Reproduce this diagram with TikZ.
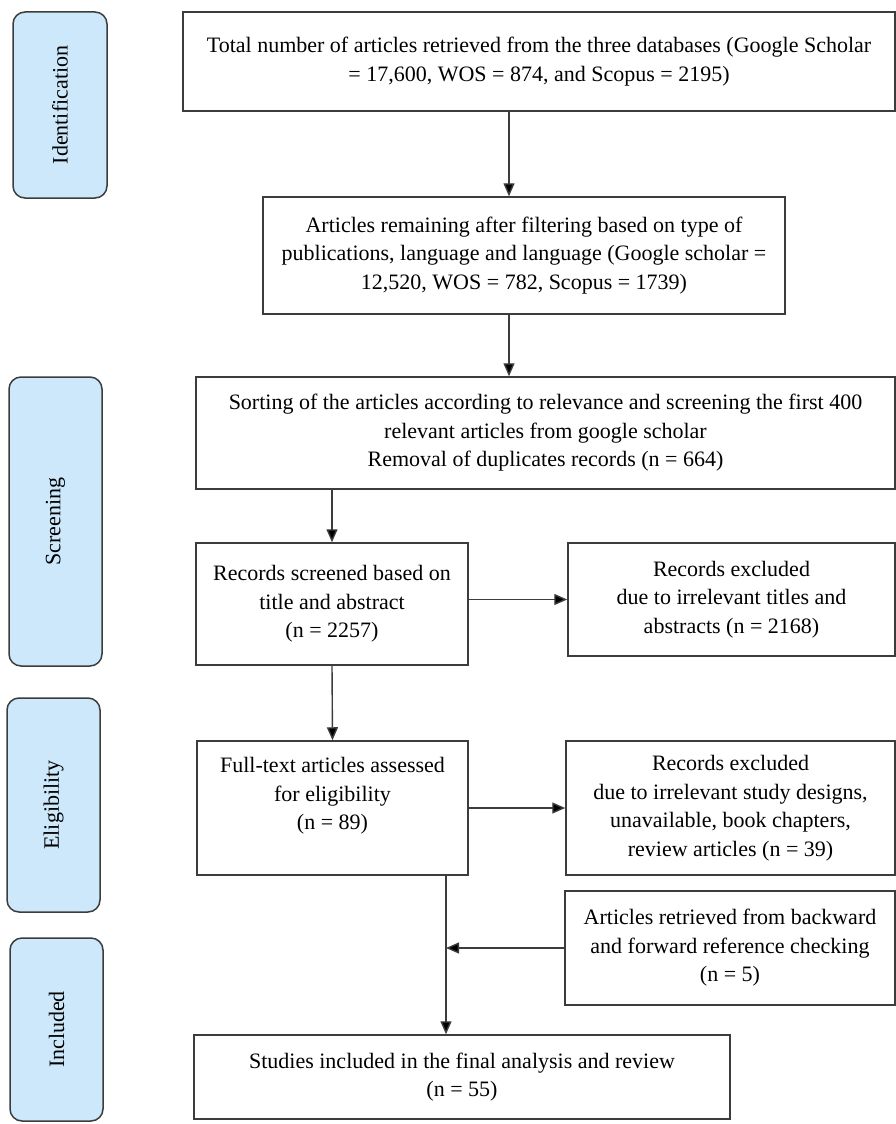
\documentclass[tikz,border=0pt]{standalone}
\usepackage{fontspec}
\setmainfont{Liberation Serif}
\usepackage{tikz}
\usetikzlibrary{arrows.meta, positioning, calc}
\definecolor{cPhase}{RGB}{204,232,250}
\definecolor{cLine}{RGB}{60,60,60}
\tikzset{
	phase/.style    ={rectangle, rounded corners=12pt, draw=cLine, line width=1.5pt, fill=cPhase, rotate=90, inner sep=2pt},
	rec/.style      ={rectangle, draw=cLine, line width=1.5pt, align=center, inner sep=2pt},
	flowarrow/.style={-{Triangle[length=13pt, width=11pt, fill=black]}, line width=1.4pt, draw=cLine},
}
\begin{document}
\begin{tikzpicture}[x=1pt, y=-1pt, font=\fontsize{22}{28.5}\selectfont]
	\useasboundingbox (0,0) rectangle (896,1124);
	% phases on the left
	\node[phase, minimum width=186pt, minimum height=94pt] (ident)  at (60,105)    {Identification};
	\node[phase, minimum width=289pt, minimum height=93pt] (screen) at (55.5,521.5) {Screening};
	\node[phase, minimum width=214pt, minimum height=93pt] (elig)   at (53.5,805)  {Eligibility};
	\node[phase, minimum width=183pt, minimum height=93pt] (incl)   at (56.5,1029.5) {Included};
	% flow boxes
	\node[rec, minimum width=712pt, minimum height=99pt] (total) at (539,61.5)
		{Total number of articles retrieved from the three databases (Google Scholar\\= 17,600, WOS = 874, and Scopus = 2195)};
	\node[rec, minimum width=522pt, minimum height=117pt] (remain) at (524,255.5)
		{Articles remaining after filtering based on type of\\publications, language and language (Google scholar =\\12,520, WOS = 782, Scopus = 1739)};
	\node[rec, minimum width=699pt, minimum height=112pt] (sorting) at (545.5,433)
		{Sorting of the articles according to relevance and screening the first 400\\relevant articles from google scholar\\Removal of duplicates records (n = 664)};
	\node[rec, minimum width=272pt, minimum height=122pt] (screened) at (332,604)
		{Records screened based on\\title and abstract\\(n = 2257)};
	\node[rec, minimum width=327pt, minimum height=113pt] (exclA) at (731.5,599.5)
		{Records excluded\\due to irrelevant titles and\\abstracts (n = 2168)};
	\node[rec, minimum width=271pt, minimum height=134pt] (fulltext) at (332.5,808)
		{Full-text articles assessed\\for eligibility\\(n = 89)\\\mbox{}};
	\node[rec, minimum width=329pt, minimum height=134pt] (exclB) at (730.5,808)
		{Records excluded\\due to irrelevant study designs,\\unavailable, book chapters,\\review articles (n = 39)};
	\node[rec, minimum width=330pt, minimum height=114pt] (backward) at (730,948)
		{Articles retrieved from backward\\and forward reference checking\\(n = 5)};
	\node[rec, minimum width=536pt, minimum height=84pt] (studies) at (462,1077)
		{Studies included in the final analysis and review\\(n = 55)};
	% connectors
	\coordinate (c1) at (509,0);
	\coordinate (c2) at (446,0);
	\draw[flowarrow] (total.south -| c1) -- (remain.north -| c1);
	\draw[flowarrow] (remain.south -| c1) -- (sorting.north -| c1);
	\draw[flowarrow] (sorting.south -| screened.north) -- (screened.north);
	\draw[flowarrow] (screened.east |- exclA.west) -- (exclA.west);
	\draw[flowarrow] (screened.south) -- (fulltext.north);
	\draw[flowarrow] (fulltext.east) -- (exclB.west);
	\draw[flowarrow] (fulltext.south -| c2) -- (studies.north -| c2);
	\coordinate (join) at (c2 |- backward.west);
	\draw[flowarrow] (backward.west) -- (join);
\end{tikzpicture}
\end{document}
